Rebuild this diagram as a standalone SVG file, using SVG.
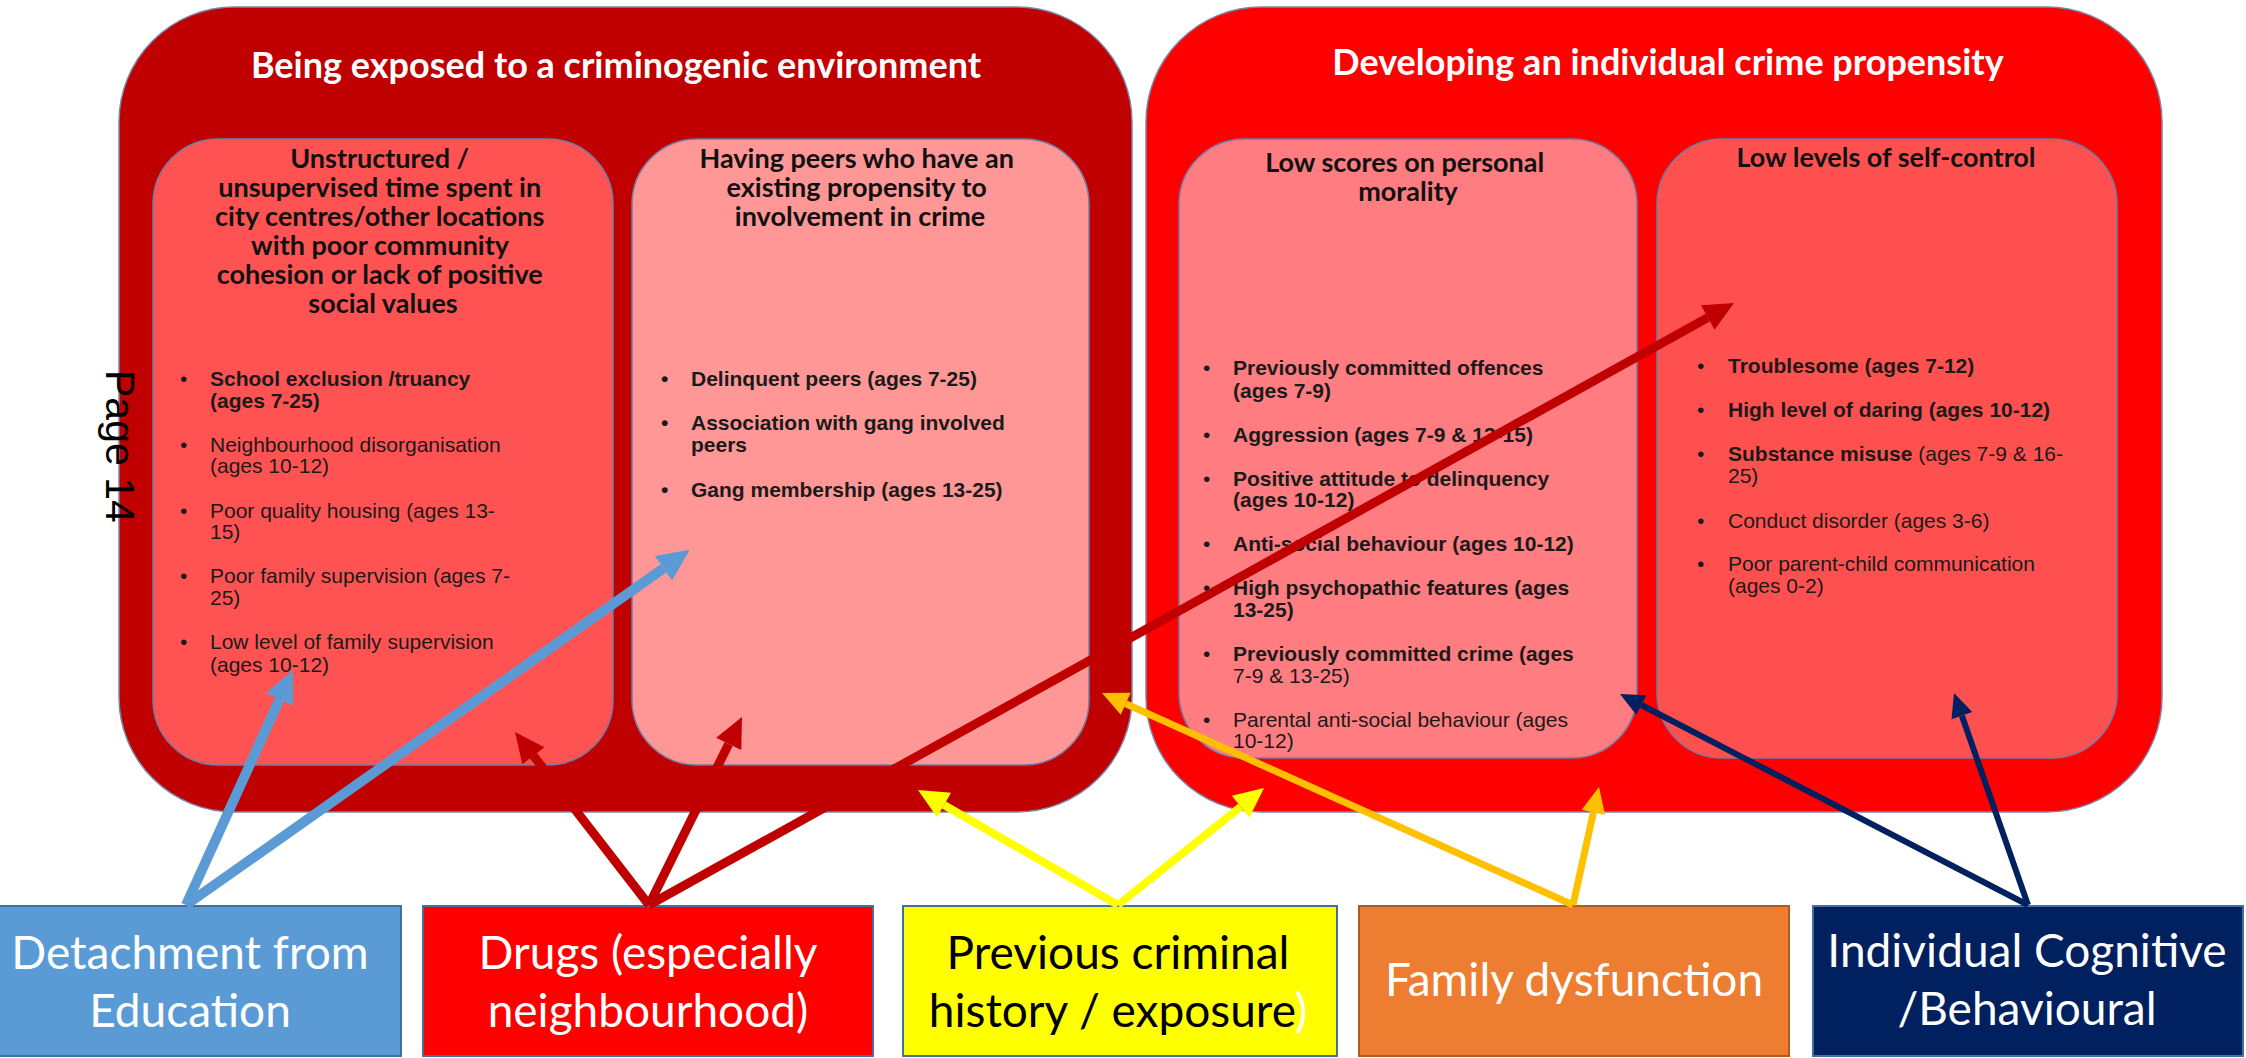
<svg xmlns="http://www.w3.org/2000/svg" width="2246" height="1058" viewBox="0 0 2246 1058">
<style>
  .outer { stroke: #7a86a8; stroke-width: 1.5; }
  .inner { stroke: #6f7ea6; stroke-width: 1.5; }
  .otitle { font-family: Lato, "Liberation Sans", sans-serif; font-weight: bold; font-size: 36px; fill: #ffffff; text-anchor: middle; }
  .ititle { font-family: Lato, "Liberation Sans", sans-serif; font-weight: bold; font-size: 27px; fill: #111111; text-anchor: middle; }
  .bl { font-family: "Liberation Sans", Arial, sans-serif; font-size: 21px; fill: #1a1a1a; }
  .b { font-weight: bold; }
  .src { stroke-width: 2; }
  .lab { font-family: Lato, "Liberation Sans", sans-serif; font-size: 46px; text-anchor: middle; }
  .conn line { fill: none; stroke-linecap: butt; }
</style>
<defs>
  <marker id="hBlue" markerUnits="userSpaceOnUse" markerWidth="32" markerHeight="30" refX="0" refY="15" orient="auto" overflow="visible"><path d="M0,0 L32,15 L0,30 z" fill="#5B9BD5"/></marker>
  <marker id="hRed" markerUnits="userSpaceOnUse" markerWidth="30" markerHeight="28" refX="0" refY="14" orient="auto" overflow="visible"><path d="M0,0 L30,14 L0,28 z" fill="#C00000"/></marker>
  <marker id="hYellow" markerUnits="userSpaceOnUse" markerWidth="30" markerHeight="28" refX="0" refY="14" orient="auto" overflow="visible"><path d="M0,0 L30,14 L0,28 z" fill="#FFFF00"/></marker>
  <marker id="hOrange" markerUnits="userSpaceOnUse" markerWidth="26" markerHeight="24" refX="0" refY="12" orient="auto" overflow="visible"><path d="M0,0 L26,12 L0,24 z" fill="#FFC000"/></marker>
  <marker id="hNavy" markerUnits="userSpaceOnUse" markerWidth="24" markerHeight="22" refX="0" refY="11" orient="auto" overflow="visible"><path d="M0,0 L24,11 L0,22 z" fill="#002060"/></marker>
</defs>
<rect width="2246" height="1058" fill="#ffffff"/>

<g id="criminogenic-environment">
  <rect class="outer" x="119" y="7" width="1013" height="805" rx="115" ry="115" fill="#C00000"/>
  <text class="otitle" x="616" y="78">Being exposed to a criminogenic environment</text>
</g>

<g id="crime-propensity">
  <rect class="outer" x="1146" y="7" width="1016" height="805" rx="115" ry="115" fill="#FF0000"/>
  <text class="otitle" x="1668" y="75">Developing an individual crime propensity</text>
</g>

<g id="unstructured-time">
  <rect class="inner" x="153" y="139" width="460" height="626" rx="65" ry="65" fill="#FF5353"/>
  <text class="ititle">
    <tspan x="383" y="168">Unstructured /</tspan>
    <tspan x="383" y="197">unsupervised time spent in</tspan>
    <tspan x="383" y="226">city centres/other locations</tspan>
    <tspan x="383" y="255">with poor community</tspan>
    <tspan x="383" y="284">cohesion or lack of positive</tspan>
    <tspan x="383" y="313">social values</tspan>
  </text>
  <text class="bl">
    <tspan x="180" y="386">•</tspan><tspan class="b" x="210" y="386">School exclusion  /truancy</tspan>
    <tspan class="b" x="210" y="408">(ages 7-25)</tspan>
    <tspan x="180" y="452">•</tspan><tspan x="210" y="452">Neighbourhood disorganisation</tspan>
    <tspan x="210" y="473">(ages 10-12)</tspan>
    <tspan x="180" y="518">•</tspan><tspan x="210" y="518">Poor quality housing (ages 13-</tspan>
    <tspan x="210" y="539">15)</tspan>
    <tspan x="180" y="583">•</tspan><tspan x="210" y="583">Poor family supervision (ages 7-</tspan>
    <tspan x="210" y="605">25)</tspan>
    <tspan x="180" y="649">•</tspan><tspan x="210" y="649">Low level of family supervision</tspan>
    <tspan x="210" y="672">(ages 10-12)</tspan>
  </text>
</g>

<g id="delinquent-peers">
  <rect class="inner" x="632" y="139" width="457" height="626" rx="65" ry="65" fill="#FF9797"/>
  <text class="ititle">
    <tspan x="860" y="168">Having peers who have an</tspan>
    <tspan x="860" y="197">existing propensity to</tspan>
    <tspan x="860" y="226">involvement in crime</tspan>
  </text>
  <text class="bl b">
    <tspan x="661" y="386">•</tspan><tspan x="691" y="386">Delinquent peers (ages 7-25)</tspan>
    <tspan x="661" y="430">•</tspan><tspan x="691" y="430">Association with gang involved</tspan>
    <tspan x="691" y="452">peers</tspan>
    <tspan x="661" y="497">•</tspan><tspan x="691" y="497">Gang membership (ages 13-25)</tspan>
  </text>
</g>

<g id="personal-morality">
  <rect class="inner" x="1179" y="139" width="458" height="619" rx="65" ry="65" fill="#FF7C80"/>
  <text class="ititle">
    <tspan x="1408" y="172">Low scores on personal</tspan>
    <tspan x="1408" y="201">morality</tspan>
  </text>
  <text class="bl">
    <tspan x="1203" y="375">•</tspan><tspan class="b" x="1233" y="375">Previously committed offences</tspan>
    <tspan class="b" x="1233" y="398">(ages 7-9)</tspan>
    <tspan x="1203" y="442">•</tspan><tspan class="b" x="1233" y="442">Aggression (ages 7-9 &amp; 13-15)</tspan>
    <tspan x="1203" y="486">•</tspan><tspan class="b" x="1233" y="486">Positive attitude to delinquency</tspan>
    <tspan class="b" x="1233" y="507">(ages 10-12)</tspan>
    <tspan x="1203" y="551">•</tspan><tspan class="b" x="1233" y="551">Anti-social behaviour (ages 10-12)</tspan>
    <tspan x="1203" y="595">•</tspan><tspan class="b" x="1233" y="595">High psychopathic features (ages</tspan>
    <tspan class="b" x="1233" y="617">13-25)</tspan>
    <tspan x="1203" y="661">•</tspan><tspan class="b" x="1233" y="661">Previously committed crime (ages</tspan>
    <tspan x="1233" y="683">7-9 &amp; 13-25)</tspan>
    <tspan x="1203" y="727">•</tspan><tspan x="1233" y="727">Parental anti-social behaviour (ages</tspan>
    <tspan x="1233" y="748">10-12)</tspan>
  </text>
</g>

<g id="self-control">
  <rect class="inner" x="1657" y="139" width="460" height="619" rx="65" ry="65" fill="#FF5050"/>
  <text class="ititle"><tspan x="1886" y="167">Low levels of self-control</tspan></text>
  <text class="bl">
    <tspan x="1697" y="373">•</tspan><tspan class="b" x="1728" y="373">Troublesome (ages 7-12)</tspan>
    <tspan x="1697" y="417">•</tspan><tspan class="b" x="1728" y="417">High level of daring (ages 10-12)</tspan>
    <tspan x="1697" y="461">•</tspan><tspan class="b" x="1728" y="461">Substance misuse</tspan><tspan> (ages 7-9 &amp; 16-</tspan>
    <tspan x="1728" y="483">25)</tspan>
    <tspan x="1697" y="528">•</tspan><tspan x="1728" y="528">Conduct disorder (ages 3-6)</tspan>
    <tspan x="1697" y="571">•</tspan><tspan x="1728" y="571">Poor parent-child communication</tspan>
    <tspan x="1728" y="593">(ages 0-2)</tspan>
  </text>
</g>

<text id="page-number" transform="translate(106,370) rotate(90)" font-family="'Liberation Sans', Arial, sans-serif" font-size="41" fill="#000000">Page 14</text>

<g id="detachment-education">
  <rect class="src" x="-2" y="906" width="403" height="150" fill="#5B9BD5" stroke="#41719C"/>
  <text class="lab" fill="#ffffff"><tspan x="190" y="969">Detachment from</tspan><tspan x="190" y="1027">Education</tspan></text>
</g>

<g id="drugs">
  <rect class="src" x="423" y="906" width="450" height="150" fill="#FF0000" stroke="#41719C"/>
  <text class="lab" fill="#ffffff"><tspan x="648" y="969">Drugs (especially</tspan><tspan x="648" y="1027">neighbourhood)</tspan></text>
</g>

<g id="previous-criminal-history">
  <rect class="src" x="903" y="906" width="434" height="150" fill="#FFFF00" stroke="#41719C"/>
  <text class="lab" fill="#000000"><tspan x="1118" y="969">Previous criminal</tspan><tspan x="1118" y="1027">history / exposure<tspan fill="#ffffff">)</tspan></tspan></text>
</g>

<g id="family-dysfunction">
  <rect class="src" x="1359" y="906" width="430" height="150" fill="#ED7D31" stroke="#AE5A21"/>
  <text class="lab" fill="#ffffff"><tspan x="1574" y="996">Family dysfunction</tspan></text>
</g>

<g id="individual-cognitive">
  <rect class="src" x="1813" y="906" width="430" height="150" fill="#002060" stroke="#41719C"/>
  <text class="lab" fill="#ffffff"><tspan x="2027" y="967">Individual Cognitive</tspan><tspan x="2027" y="1025">/Behavioural</tspan></text>
</g>

<g id="connectors" class="conn">
  <line x1="186" y1="905" x2="279.6" y2="699.3" stroke="#5B9BD5" stroke-width="10" marker-end="url(#hBlue)"/>
  <line x1="186" y1="905" x2="663.5" y2="568.3" stroke="#5B9BD5" stroke-width="10" marker-end="url(#hBlue)"/>
  <line x1="649" y1="905" x2="533.4" y2="755.7" stroke="#C00000" stroke-width="9" marker-end="url(#hRed)"/>
  <line x1="649" y1="905" x2="728.7" y2="743.9" stroke="#C00000" stroke-width="9" marker-end="url(#hRed)"/>
  <line x1="649" y1="905" x2="1707.8" y2="317.6" stroke="#C00000" stroke-width="9" marker-end="url(#hRed)"/>
  <line x1="1118" y1="905" x2="944" y2="805" stroke="#FFFF00" stroke-width="8" marker-end="url(#hYellow)"/>
  <line x1="1118" y1="905" x2="1240.6" y2="806.8" stroke="#FFFF00" stroke-width="8" marker-end="url(#hYellow)"/>
  <line x1="1573" y1="905" x2="1125.7" y2="703.7" stroke="#FFC000" stroke-width="7" marker-end="url(#hOrange)"/>
  <line x1="1573" y1="905" x2="1593.4" y2="812.4" stroke="#FFC000" stroke-width="7" marker-end="url(#hOrange)"/>
  <line x1="2028" y1="905" x2="1641.3" y2="705" stroke="#002060" stroke-width="6" marker-end="url(#hNavy)"/>
  <line x1="2028" y1="905" x2="1961.9" y2="715.7" stroke="#002060" stroke-width="6" marker-end="url(#hNavy)"/>
</g>
</svg>
